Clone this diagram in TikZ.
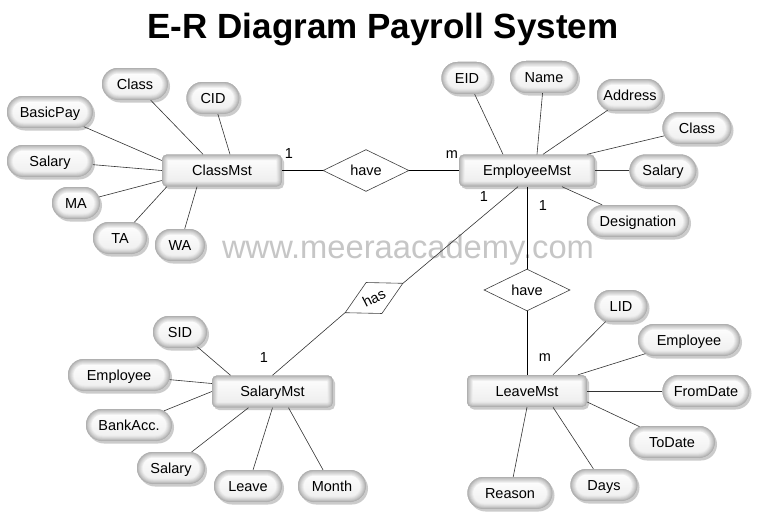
\documentclass[tikz,border=0pt]{standalone}
\usepackage{fontspec}
\setmainfont{Liberation Sans}
\usetikzlibrary{shapes.geometric,shapes.misc,shadows}
\begin{document}
\begin{tikzpicture}[x=1pt,y=-1pt,
  shad/.style={drop shadow={shadow xshift=2pt, shadow yshift=-2.5pt, fill=gray!80, opacity=0.5}},
  glow/.style={path picture={
      \foreach \w/\c in {11/16,9/25,7/34,5/43,3.2/52,1.6/62}{
        \draw[line width=\w pt, draw=gray!\c, rounded corners=#1]
          (path picture bounding box.south west) rectangle (path picture bounding box.north east);}}},
  ent/.style={rectangle, rounded corners=5pt, minimum width=120pt, minimum height=32pt, inner sep=0pt,
    draw=none, top color=white, bottom color=gray!16, shad, glow=5pt,
    text height=10.4pt, text depth=0pt, font=\fontsize{14.5}{16}\selectfont},
  attr/.style={rounded rectangle, minimum width=60pt, minimum height=32pt, inner sep=0pt,
    draw=none, top color=white, bottom color=gray!14, shad, glow=16pt,
    text height=10.4pt, text depth=0pt, font=\fontsize{14.5}{16}\selectfont},
  rel/.style={diamond, draw=black!75, line width=0.6pt, fill=white, inner sep=0pt,
    minimum width=86pt, minimum height=34pt, text height=10.4pt, text depth=0pt,
    font=\fontsize{14.5}{16}\selectfont},
  aline/.style={draw=black!80, line width=0.6pt},
  rline/.style={draw=black, line width=0.9pt},
  card/.style={font=\fontsize{14.5}{16}\selectfont, inner sep=0pt}
]
\useasboundingbox[fill=white] (0,0) rectangle (757,519);

% title and watermark
\node[font=\fontsize{35}{40}\selectfont\bfseries, anchor=base] (title) at (383,38) {E-R Diagram Payroll System};
\node[font=\fontsize{32.7}{36}\selectfont, text=gray!45, anchor=base] (wm) at (408,258) {www.meeraacademy.com};

% entities
\node[ent, minimum width=120pt] (cm) at (222,170.5) {ClassMst};
\node[ent, minimum width=136pt] (em) at (527,170.5) {EmployeeMst};
\node[ent, minimum width=121pt] (sm) at (272.5,391.5) {SalaryMst};
\node[ent, minimum width=120pt] (lm) at (527,391) {LeaveMst};

% relationships
\node[rel] (h1) at (366,170.5) {have};
\node[rel] (h2) at (527,290) {have};
\node[rel, rotate=27, minimum width=65pt, minimum height=35pt] (hs) at (374,298) {has};

% ClassMst attributes
\node[attr, minimum width=66pt] (ccls) at (135,84) {Class};
\node[attr, minimum width=53pt] (ccid) at (213,98) {CID};
\node[attr, minimum width=86pt] (cbas) at (50,112) {BasicPay};
\node[attr, minimum width=86pt] (csal) at (50,161) {Salary};
\node[attr, minimum width=48pt] (cma) at (76,203) {MA};
\node[attr, minimum width=54pt] (cta) at (120,238) {TA};
\node[attr, minimum width=50pt] (cwa) at (180,245) {WA};

% EmployeeMst attributes
\node[attr, minimum width=51pt] (eid) at (467,78) {EID};
\node[attr, minimum width=68pt] (enam) at (544,77) {Name};
\node[attr, minimum width=66pt] (eadr) at (630,95) {Address};
\node[attr, minimum width=69pt] (ecls) at (697,128) {Class};
\node[attr, minimum width=67pt] (esal) at (663,170.5) {Salary};
\node[attr, minimum width=102pt] (edes) at (638,221) {Designation};

% LeaveMst attributes
\node[attr, minimum width=53pt] (lid) at (621,306) {LID};
\node[attr, minimum width=102pt] (lemp) at (689,340) {Employee};
\node[attr, minimum width=87pt] (lfrm) at (706,391) {FromDate};
\node[attr, minimum width=86pt] (lto) at (672,442) {ToDate};
\node[attr, minimum width=67pt] (lday) at (604,485) {Days};
\node[attr, minimum width=85pt] (lrea) at (510,493) {Reason};

% SalaryMst attributes
\node[attr, minimum width=54pt] (sid) at (180,332) {SID};
\node[attr, minimum width=102pt] (semp) at (119,375) {Employee};
\node[attr, minimum width=86pt] (sbnk) at (129,425) {BankAcc.};
\node[attr, minimum width=68pt] (ssal) at (171,468) {Salary};
\node[attr, minimum width=68pt] (slea) at (248,486) {Leave};
\node[attr, minimum width=68pt] (smon) at (332,486) {Month};

% relationship connectors
\draw[rline] (cm) -- (h1);
\draw[rline] (h1) -- (em);
\draw[rline] (em.south) -- (h2);
\draw[rline] (h2) -- (lm.north);
\draw[aline] ([xshift=-9pt]em.south) -- (hs.east);
\draw[aline] (hs.west) -- (sm.north);

% attribute connectors
\draw[aline] (ccls) -- ([xshift=-19pt]cm.north);
\draw[aline] (ccid) -- ([xshift=8pt]cm.north);
\draw[aline] (cbas) -- ([yshift=10pt]cm.west);
\draw[aline] (csal) -- (cm.west);
\draw[aline] (cma) -- ([yshift=-10pt]cm.west);
\draw[aline] (cta) -- ([xshift=5pt]cm.south west);
\draw[aline] (cwa) -- ([xshift=-25pt]cm.south);

\draw[aline] (eid) -- ([xshift=-24pt]em.north);
\draw[aline] (enam) -- ([xshift=10pt]em.north);
\draw[aline] (eadr) -- ([xshift=16pt]em.north);
\draw[aline] (ecls) -- ([xshift=60pt]em.north);
\draw[aline] (esal) -- (em);
\draw[aline] (edes) -- ([xshift=35pt]em.south);

\draw[aline] (lid) -- ([xshift=26pt]lm.north);
\draw[aline] (lemp) -- ([xshift=51pt]lm.north);
\draw[aline] (lfrm) -- (lm);
\draw[aline] (lto) -- ([yshift=-11pt]lm.east);
\draw[aline] (lday) -- ([xshift=26pt]lm.south);
\draw[aline] (lrea) -- (lm.south);

\draw[aline] (sid) -- ([xshift=-42pt]sm.north);
\draw[aline] (semp) -- ([yshift=8pt]sm.west);
\draw[aline] (sbnk) -- (sm.west);
\draw[aline] (ssal) -- ([xshift=-24pt]sm.south);
\draw[aline] (slea) -- (sm.south);
\draw[aline] (smon) -- ([xshift=16pt]sm.south);

% cardinalities
\node[card] (k1) at (289,154) {1};
\node[card] (k2) at (452,155) {m};
\node[card] (k3) at (484,197) {1};
\node[card] (k4) at (543,206) {1};
\node[card] (k5) at (545,358) {m};
\node[card] (k6) at (264,358) {1};
\end{tikzpicture}
\end{document}
